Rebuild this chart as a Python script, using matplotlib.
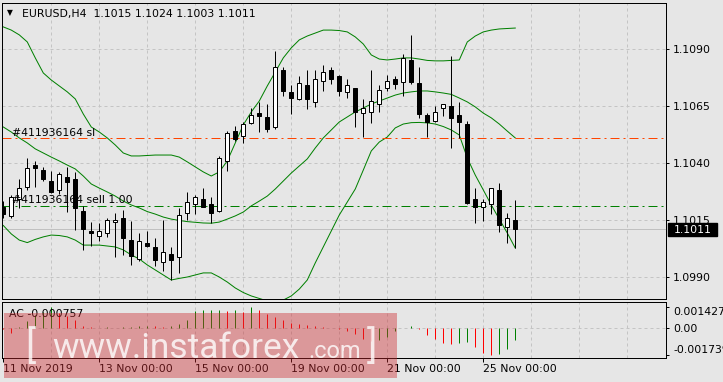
import numpy as np
import matplotlib.pyplot as plt
from matplotlib.patches import Rectangle

# EURUSD H4 candles (11 Nov 2019 00:00 onwards)
opens = [1.10209, 1.10169, 1.10242, 1.10297, 1.10392, 1.10370, 1.10322, 1.10283, 1.10338, 1.10330,
         1.10191, 1.10103, 1.10081, 1.10093, 1.10141, 1.10160, 1.10063, 1.09979, 1.10050, 1.10031,
         1.09968, 1.10002, 1.09990, 1.10180, 1.10220, 1.10243, 1.10221, 1.10191, 1.10410, 1.10541,
         1.10520, 1.10578, 1.10619, 1.10602, 1.10560, 1.10809, 1.10711, 1.10680, 1.10743, 1.10670,
         1.10761, 1.10809, 1.10783, 1.10711, 1.10731, 1.10619, 1.10626, 1.10659, 1.10728, 1.10770,
         1.10758, 1.10853, 1.10751, 1.10612, 1.10587, 1.10641, 1.10651, 1.10612, 1.10572, 1.10243,
         1.10209, 1.10220, 1.10283, 1.10119, 1.10150]
highs = [1.10234, 1.10261, 1.10330, 1.10422, 1.10411, 1.10384, 1.10368, 1.10363, 1.10384, 1.10362,
         1.10213, 1.10142, 1.10140, 1.10162, 1.10182, 1.10197, 1.10147, 1.10093, 1.10103, 1.10073,
         1.10151, 1.10034, 1.10205, 1.10275, 1.10261, 1.10293, 1.10251, 1.10432, 1.10541, 1.10563,
         1.10580, 1.10641, 1.10667, 1.10659, 1.10894, 1.10821, 1.10743, 1.10783, 1.10809, 1.10809,
         1.10831, 1.10823, 1.10785, 1.10770, 1.10732, 1.10682, 1.10809, 1.10743, 1.10789, 1.10783,
         1.10878, 1.10963, 1.10821, 1.10619, 1.10651, 1.10660, 1.10870, 1.10670, 1.10587, 1.10290,
         1.10243, 1.10291, 1.10312, 1.10180, 1.10240]
lows = [1.10160, 1.10159, 1.10205, 1.10283, 1.10297, 1.10322, 1.10270, 1.10263, 1.10188, 1.10107,
        1.10020, 1.10039, 1.10059, 1.10078, 1.09990, 1.09998, 1.09952, 1.09973, 1.10031, 1.09951,
        1.09927, 1.09888, 1.09920, 1.10151, 1.10177, 1.10208, 1.10137, 1.10188, 1.10367, 1.10499,
        1.10490, 1.10571, 1.10538, 1.10538, 1.10549, 1.10696, 1.10616, 1.10679, 1.10638, 1.10648,
        1.10717, 1.10748, 1.10696, 1.10688, 1.10560, 1.10516, 1.10578, 1.10626, 1.10717, 1.10726,
        1.10696, 1.10748, 1.10600, 1.10516, 1.10582, 1.10609, 1.10468, 1.10509, 1.10220, 1.10139,
        1.10148, 1.10177, 1.10100, 1.10049, 1.10030]
closes = [1.10177, 1.10251, 1.10290, 1.10381, 1.10380, 1.10329, 1.10272, 1.10352, 1.10319, 1.10202,
          1.10110, 1.10092, 1.10103, 1.10151, 1.10149, 1.10070, 1.09993, 1.10060, 1.10038, 1.09976,
          1.10009, 1.09976, 1.10173, 1.10229, 1.10251, 1.10209, 1.10180, 1.10422, 1.10531, 1.10506,
          1.10572, 1.10612, 1.10609, 1.10549, 1.10821, 1.10718, 1.10688, 1.10751, 1.10680, 1.10768,
          1.10799, 1.10768, 1.10718, 1.10743, 1.10626, 1.10641, 1.10673, 1.10721, 1.10759, 1.10748,
          1.10860, 1.10758, 1.10616, 1.10580, 1.10626, 1.10659, 1.10600, 1.10580, 1.10227, 1.10209,
          1.10229, 1.10290, 1.10129, 1.10159, 1.10110]

# Bollinger bands
bb_upper = [1.10998, 1.10984, 1.10963, 1.10932, 1.10862, 1.10796, 1.10765, 1.10739, 1.10713, 1.10682,
            1.10616, 1.10559, 1.10537, 1.10511, 1.10480, 1.10445, 1.10432, 1.10432, 1.10434, 1.10436,
            1.10436, 1.10436, 1.10427, 1.10406, 1.10384, 1.10362, 1.10344, 1.10362, 1.10410, 1.10489,
            1.10568, 1.10625, 1.10673, 1.10739, 1.10800, 1.10862, 1.10906, 1.10941, 1.10958, 1.10971,
            1.10984, 1.10984, 1.10982, 1.10976, 1.10954, 1.10923, 1.10875, 1.10857, 1.10853, 1.10857,
            1.10862, 1.10862, 1.10857, 1.10851, 1.10849, 1.10849, 1.10851, 1.10853, 1.10932, 1.10958,
            1.10976, 1.10984, 1.10989, 1.10991, 1.10993]
bb_middle = [1.10559, 1.10537, 1.10511, 1.10489, 1.10463, 1.10445, 1.10427, 1.10410, 1.10392, 1.10375,
             1.10344, 1.10309, 1.10291, 1.10274, 1.10256, 1.10234, 1.10217, 1.10204, 1.10188, 1.10177,
             1.10164, 1.10155, 1.10149, 1.10144, 1.10141, 1.10138, 1.10137, 1.10142, 1.10155, 1.10169,
             1.10186, 1.10213, 1.10234, 1.10256, 1.10287, 1.10322, 1.10357, 1.10388, 1.10419, 1.10467,
             1.10511, 1.10546, 1.10581, 1.10603, 1.10625, 1.10642, 1.10660, 1.10673, 1.10686, 1.10699,
             1.10708, 1.10713, 1.10717, 1.10717, 1.10713, 1.10708, 1.10702, 1.10686, 1.10669, 1.10647,
             1.10620, 1.10599, 1.10572, 1.10541, 1.10511]
bb_lower = [1.10127, 1.10090, 1.10063, 1.10052, 1.10066, 1.10077, 1.10085, 1.10083, 1.10077, 1.10063,
            1.10041, 1.10041, 1.10041, 1.10037, 1.10033, 1.10020, 1.09998, 1.09980, 1.09954, 1.09932,
            1.09910, 1.09888, 1.09895, 1.09901, 1.09910, 1.09919, 1.09919, 1.09901, 1.09879, 1.09853,
            1.09833, 1.09818, 1.09807, 1.09796, 1.09791, 1.09800, 1.09818, 1.09848, 1.09888, 1.09963,
            1.10033, 1.10103, 1.10173, 1.10230, 1.10287, 1.10370, 1.10454, 1.10493, 1.10515, 1.10555,
            1.10572, 1.10578, 1.10579, 1.10577, 1.10572, 1.10561, 1.10546, 1.10524, 1.10423, 1.10348,
            1.10283, 1.10217, 1.10155, 1.10094, 1.10028]

# Accelerator Oscillator
ac_values = [-0.00003, -0.00029, 0.00007, 0.00050, 0.00085, 0.00110, 0.00138, 0.00099, 0.00082, 0.00055,
             0.00016, 0.00008, 0.00004, 0.00006, 0.00003, 0.00006, 0.00009, 0.00012, 0.00015, 0.00013,
             0.00011, 0.00013, 0.00029, 0.00055, 0.00117, 0.00119, 0.00121, 0.00123, 0.00114, 0.00121,
             0.00110, 0.001427, 0.00120, 0.00095, 0.00073, 0.00055, 0.00037, 0.00028, 0.00024, 0.00015,
             0.00009, 0.00004, -0.00002, -0.00015, -0.00040, -0.00070, -0.00085, -0.00074, -0.00055, -0.00020,
             0.00002, 0.00015, -0.00002, -0.00046, -0.00073, -0.00100, -0.00107, -0.00095, -0.00088, -0.00122,
             -0.00160, -0.001739, -0.00170, -0.00138, -0.000757]

price_ticks = [1.0990, 1.1015, 1.1040, 1.1065, 1.1090]
date_bars = [0, 12, 24, 36, 48, 60]
date_labels = ['11 Nov 2019', '13 Nov 00:00', '15 Nov 00:00', '19 Nov 00:00', '21 Nov 00:00', '25 Nov 00:00']
sl_price = 1.10509
sell_price = 1.10211
order_id = '#411936164'

plt.rcParams['font.family'] = ['DejaVu Sans']
plt.rcParams['lines.scale_dashes'] = False

W, H = 723, 382
PX = 0.72  # one pixel in points
BG = '#e6e6e6'
GRID = '#c4c4c4'
GREEN = '#008000'
FS = 7.8

fig = plt.figure(figsize=(W / 100, H / 100), dpi=100, facecolor=BG)


def box(l, t, r, b):
    return [l / W, 1 - b / H, (r - l) / W, (b - t) / H]


ax = fig.add_axes(box(2, 3, 666, 299), facecolor=BG)
ax_ac = fig.add_axes(box(2, 302.3, 666, 357.7), facecolor=BG)

x = np.arange(len(closes))
o, h, l, c = map(np.array, (opens, highs, lows, closes))

for a in (ax, ax_ac):
    a.set_xlim(-0.16, 82.84)
    for s in a.spines.values():
        s.set_linewidth(PX)
        s.set_color('black')
    for g in range(6, 83, 6):
        a.axvline(g, color=GRID, lw=PX, dashes=(3 * PX, 3 * PX), zorder=0)

# main price panel
ax.set_ylim(1.098046, 1.111028)
for p in price_ticks:
    ax.axhline(p, color=GRID, lw=PX, dashes=(3 * PX, 3 * PX), zorder=0)
ax.axhline(c[-1], color='#c0c0c0', lw=PX, zorder=1)

ax.plot(x, bb_upper, color=GREEN, lw=PX, zorder=2)
ax.plot(x, bb_middle, color=GREEN, lw=PX, zorder=2)
ax.plot(x, bb_lower, color=GREEN, lw=PX, zorder=2)

dashdot = (9 * PX, 4 * PX, 2 * PX, 4 * PX)
ax.axhline(sl_price, color='#ff4500', lw=PX, dashes=dashdot, zorder=2)
ax.axhline(sell_price, color=GREEN, lw=PX, dashes=dashdot, zorder=2)

ax.vlines(x, l, h, color='black', lw=PX, zorder=3)
rising = c >= o
ax.bar(x, np.abs(c - o), bottom=np.minimum(o, c), width=0.55,
       color=np.where(rising, 'white', 'black'), edgecolor='black', linewidth=PX, zorder=4)

ax.annotate(order_id + ' sl', xy=(0, sl_price), xycoords=('axes fraction', 'data'),
            xytext=(9.5, 2.6), textcoords='offset pixels', fontsize=FS, va='baseline', zorder=6)
ax.annotate(order_id + ' sell 1.00', xy=(0, sell_price), xycoords=('axes fraction', 'data'),
            xytext=(9.5, 3), textcoords='offset pixels', fontsize=FS, va='baseline', zorder=6)

ax.yaxis.tick_right()
ax.set_yticks(price_ticks, [f'{p:.4f}' for p in price_ticks])
ax.tick_params(axis='y', length=3 * PX, width=PX, pad=4 * PX, labelsize=FS)
ax.tick_params(axis='x', bottom=False, labelbottom=False)

# current price marker on the scale
ax.add_patch(Rectangle((1.0035, c[-1] - 0.000276), 49 / 664, 0.000553,
                       transform=ax.get_yaxis_transform(), color='black', clip_on=False, zorder=5))
ax.text(1.0035 + 24.5 / 664, c[-1], f'{c[-1]:.4f}', transform=ax.get_yaxis_transform(),
        color='white', fontsize=FS, ha='center', va='center_baseline', zorder=6)

fig.text(7 / W, 1 - 15.5 / H, '\u25bc', fontsize=5.5, va='baseline')
fig.text(21.5 / W, 1 - 16.7 / H,
         f'EURUSD,H4  {o[-1]:.4f} {h[-1]:.4f} {l[-1]:.4f} {c[-1]:.4f}',
         fontsize=FS, va='baseline')

# AC sub panel
ac = np.array(ac_values)
ax_ac.set_ylim(-0.001942, 0.001717)
ax_ac.axhline(0, color=GRID, lw=PX, dashes=(3 * PX, 3 * PX), zorder=0)
ac_colors = np.where(np.diff(ac, prepend=ac[0]) > 0, GREEN, '#ff0000')
ax_ac.vlines(x, 0, ac, colors=ac_colors, lw=PX, zorder=3)
ax_ac.text(7.3 / 664, 1 - 15 / 55.4, f'AC {ac[-1]:.6f}', transform=ax_ac.transAxes,
           fontsize=FS, va='baseline')

ax_ac.yaxis.tick_right()
ac_ticks = [ac.max(), 0, ac.min()]
ax_ac.set_yticks(ac_ticks, [f'{ac.max():.6f}', '0.00', f'{ac.min():.6f}'])
ax_ac.tick_params(axis='y', length=3 * PX, width=PX, pad=4 * PX, labelsize=FS)
labs = ax_ac.get_yticklabels()
labs[0].set_va('top')
labs[2].set_va('bottom')

ax_ac.set_xticks(date_bars, date_labels)
ax_ac.tick_params(axis='x', length=4 * PX, width=PX, pad=2 * PX, labelsize=FS)
for t in ax_ac.get_xticklabels():
    t.set_ha('left')

# watermark
fig.add_artist(Rectangle((4 / W, 1 - 378 / H), 393 / W, 65 / H, transform=fig.transFigure,
                         facecolor=(205 / 255, 45 / 255, 50 / 255), alpha=0.42, lw=0, zorder=10))
wm = dict(color='white', alpha=0.8, va='baseline', family='Roboto', zorder=11)
fig.text(25 / W, 1 - 358 / H, '[', fontsize=28, **wm)
fig.text(52 / W, 1 - 358 / H, 'www.instaforex', fontsize=25.5, **wm)
fig.text(308 / W, 1 - 358 / H, '.com', fontsize=17, **wm)
fig.text(367 / W, 1 - 358 / H, ']', fontsize=28, **wm)

fig.savefig('out.png', dpi=100, facecolor=BG)
